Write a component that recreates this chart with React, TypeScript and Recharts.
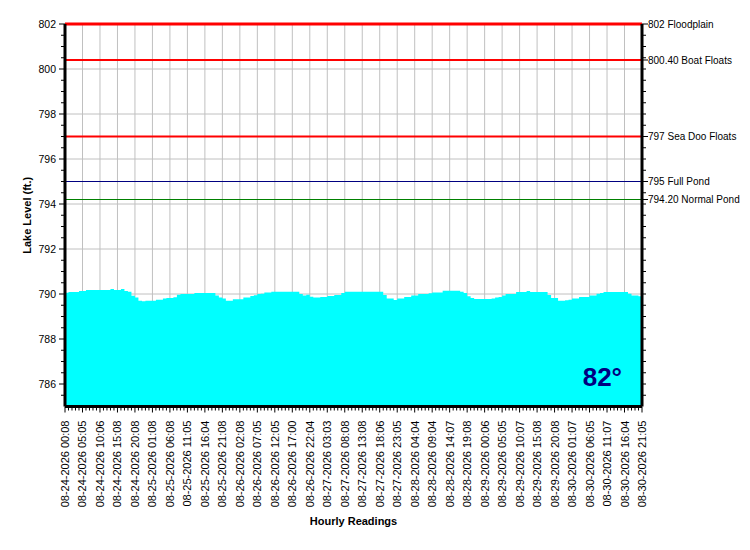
import React from "react";
import {
  Area,
  CartesianGrid,
  ComposedChart,
  Label,
  ReferenceLine,
  XAxis,
  YAxis,
} from "recharts";

// hourly lake level readings (ft.)
const levels = [
  790.06, 790.09, 790.09, 790.09, 790.13, 790.13, 790.18, 790.18, 790.18, 790.18,
  790.18, 790.18, 790.18, 790.22, 790.18, 790.18, 790.22, 790.13, 790.1, 789.92,
  789.84, 789.7, 789.68, 789.7, 789.7, 789.7, 789.75, 789.75, 789.8, 789.82,
  789.82, 789.86, 789.97, 790.0, 790.0, 790.0, 790.0, 790.04, 790.04, 790.04,
  790.04, 790.04, 790.04, 789.93, 789.84, 789.8, 789.7, 789.7, 789.77, 789.77,
  789.77, 789.84, 789.84, 789.91, 789.95, 790.0, 790.01, 790.07, 790.07, 790.1,
  790.1, 790.1, 790.1, 790.1, 790.1, 790.1, 790.1, 790.0, 789.93, 789.97,
  789.88, 789.84, 789.84, 789.87, 789.87, 789.91, 789.91, 789.96, 789.96, 790.05,
  790.1, 790.1, 790.1, 790.1, 790.1, 790.1, 790.1, 790.1, 790.1, 790.1,
  790.1, 789.96, 789.8, 789.8, 789.73, 789.8, 789.8, 789.87, 789.87, 789.93,
  789.93, 790.0, 790.0, 790.0, 790.03, 790.07, 790.07, 790.07, 790.14, 790.14,
  790.14, 790.15, 790.15, 790.1, 790.04, 789.9, 789.82, 789.78, 789.78, 789.78,
  789.78, 789.78, 789.8, 789.85, 789.87, 789.93, 790.0, 790.0, 790.0, 790.09,
  790.09, 790.09, 790.13, 790.09, 790.09, 790.09, 790.09, 790.09, 789.96, 789.82,
  789.82, 789.7, 789.7, 789.72, 789.75, 789.8, 789.8, 789.87, 789.87, 789.87,
  789.93, 789.93, 790.01, 790.05, 790.09, 790.09, 790.09, 790.09, 790.09, 790.09,
  790.09, 790.01, 789.93, 789.93, 789.9, 789.82,
];

// every fifth reading gets a label
const labelEvery = 5;
const xLabels = [
  "08-24-2026 00:08", "08-24-2026 05:05", "08-24-2026 10:06", "08-24-2026 15:08",
  "08-24-2026 20:08", "08-25-2026 01:08", "08-25-2026 06:08", "08-25-2026 11:05",
  "08-25-2026 16:04", "08-25-2026 21:08", "08-26-2026 02:08", "08-26-2026 07:05",
  "08-26-2026 12:05", "08-26-2026 17:00", "08-26-2026 22:04", "08-27-2026 03:03",
  "08-27-2026 08:08", "08-27-2026 13:08", "08-27-2026 18:06", "08-27-2026 23:05",
  "08-28-2026 04:04", "08-28-2026 09:04", "08-28-2026 14:07", "08-28-2026 19:08",
  "08-29-2026 00:06", "08-29-2026 05:05", "08-29-2026 10:07", "08-29-2026 15:08",
  "08-29-2026 20:08", "08-30-2026 01:07", "08-30-2026 06:05", "08-30-2026 11:07",
  "08-30-2026 16:04", "08-30-2026 21:05",
];

const yDomain = [785, 802];
const yMajorTicks = [786, 788, 790, 792, 794, 796, 798, 800, 802];

const levelMarks = [
  { value: 802, label: "802 Floodplain", color: "#ff0000", width: 3 },
  { value: 800.4, label: "800.40 Boat Floats", color: "#ff0000", width: 2 },
  { value: 797, label: "797 Sea Doo Floats", color: "#ff0000", width: 2 },
  { value: 795, label: "795 Full Pond", color: "#000080", width: 1 },
  { value: 794.2, label: "794.20 Normal Pond", color: "#008000", width: 1 },
];

const waterTemp = "82°";

const font = "'Liberation Sans', Arial, sans-serif";
const W = 742;
const H = 528;

const data = levels.map((level, idx) => ({ idx, level }));
const xMajorTicks = xLabels.map((_, i) => i * labelEvery);

const yMinorTicks: number[] = [];
for (let v = yDomain[0] + 0.5; v <= yDomain[1]; v += 0.5) yMinorTicks.push(v);
const rightTicks = [...yMinorTicks, ...levelMarks.map((m) => m.value)]
  .filter((v, i, arr) => arr.indexOf(v) === i)
  .sort((a, b) => a - b);

const XTick = (props: any) => {
  const { x, y, payload } = props;
  const i = payload.value;
  const major = i % labelEvery === 0;
  return (
    <g>
      <line x1={x} x2={x} y1={y} y2={y + (major ? 6 : 4)} stroke="#000" />
      {major && (
        <text
          transform={`translate(${x},${y + 14}) rotate(-90)`}
          textAnchor="end"
          dominantBaseline="central"
          fontSize={11}
          fontFamily={font}
          fill="#000"
        >
          {xLabels[i / labelEvery]}
        </text>
      )}
    </g>
  );
};

const LeftTick = (props: any) => {
  const { x, y, payload } = props;
  const major = yMajorTicks.includes(payload.value);
  return (
    <g>
      <line x1={x - (major ? 6 : 4)} x2={x} y1={y} y2={y} stroke="#000" />
      {major && (
        <text x={x - 9} y={y} textAnchor="end" dominantBaseline="central" fontSize={10.5} fontFamily={font} fill="#000">
          {payload.value}
        </text>
      )}
    </g>
  );
};

const RightTick = (props: any) => {
  const { x, y, payload } = props;
  const mark = levelMarks.find((m) => m.value === payload.value);
  return (
    <g>
      <line x1={x} x2={x + (mark ? 6 : 4)} y1={y} y2={y} stroke="#000" />
      {mark && (
        <text x={x + 6} y={y} textAnchor="start" dominantBaseline="central" fontSize={10} fontFamily={font} fill="#000">
          {mark.label}
        </text>
      )}
    </g>
  );
};

const YTitle = (props: any) => {
  const { viewBox } = props;
  const cx = viewBox.x + 18.5;
  const cy = viewBox.y + viewBox.height / 2;
  return (
    <text
      transform={`translate(${cx},${cy}) rotate(-90)`}
      textAnchor="middle"
      dominantBaseline="central"
      fontSize={11}
      fontWeight="bold"
      fontFamily={font}
      fill="#000"
    >
      Lake Level (ft.)
    </text>
  );
};

const XTitle = (props: any) => {
  const { viewBox } = props;
  return (
    <text
      x={viewBox.x + viewBox.width / 2}
      y={viewBox.y + 114.5}
      textAnchor="middle"
      dominantBaseline="central"
      fontSize={11}
      fontWeight="bold"
      fontFamily={font}
      fill="#000"
    >
      Hourly Readings
    </text>
  );
};

export default function App() {
  return (
    <div style={{ position: "relative", width: W, height: H }}>
      <ComposedChart
        width={W}
        height={H}
        data={data}
        margin={{ top: 16, right: 0, bottom: 9.5, left: 0 }}
      >
        <CartesianGrid
          xAxisId="x"
          yAxisId="left"
          stroke="#c0c0c0"
          verticalValues={xMajorTicks}
          horizontalValues={yMajorTicks}
        />
        <XAxis
          xAxisId="x"
          dataKey="idx"
          type="number"
          domain={[0, levels.length - 1]}
          ticks={data.map((d) => d.idx)}
          interval={0}
          height={120}
          tick={<XTick />}
          tickLine={false}
          tickSize={0}
          tickMargin={0}
          axisLine={{ stroke: "#000", strokeWidth: 3 }}
        >
          <Label content={<XTitle />} />
        </XAxis>
        <YAxis
          yAxisId="left"
          type="number"
          domain={yDomain}
          ticks={yMinorTicks}
          interval={0}
          width={57}
          tick={<LeftTick />}
          tickLine={false}
          tickSize={0}
          tickMargin={0}
          axisLine={{ stroke: "#000", strokeWidth: 3 }}
        >
          <Label content={<YTitle />} />
        </YAxis>
        <YAxis
          yAxisId="right"
          orientation="right"
          type="number"
          domain={yDomain}
          allowDataOverflow
          ticks={rightTicks}
          interval={0}
          width={108}
          tick={<RightTick />}
          tickLine={false}
          tickSize={0}
          tickMargin={0}
          axisLine={{ stroke: "#000", strokeWidth: 3 }}
        />
        <Area
          xAxisId="x"
          yAxisId="left"
          type="stepAfter"
          dataKey="level"
          stroke="none"
          fill="#00ffff"
          fillOpacity={1}
          isAnimationActive={false}
        />
        {levelMarks.map((m) => (
          <ReferenceLine
            key={m.value}
            xAxisId="x"
            yAxisId="left"
            y={m.value}
            stroke={m.color}
            strokeWidth={m.width}
          />
        ))}
      </ComposedChart>
      <svg
        width={W}
        height={H}
        style={{ position: "absolute", left: 0, top: 0, pointerEvents: "none" }}
      >
        <text x={574.7} y={378} fontSize={26} fontWeight="bold" fontFamily={font} fill="#000080">
          {waterTemp}
        </text>
      </svg>
    </div>
  );
}
